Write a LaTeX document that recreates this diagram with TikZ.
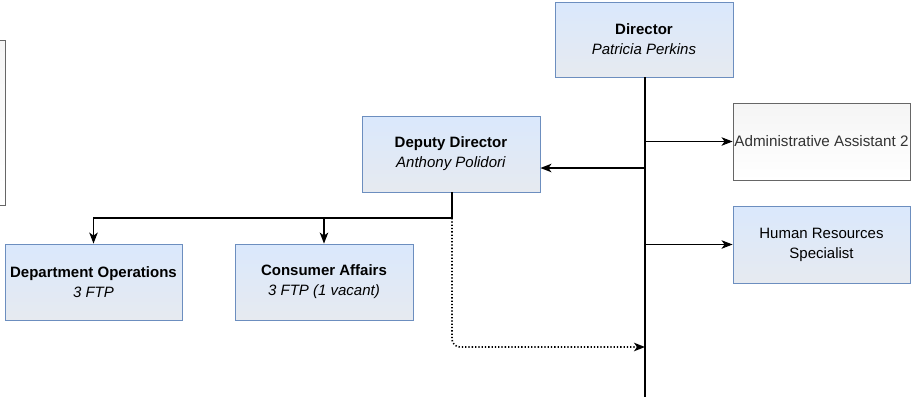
\documentclass[tikz,border=0pt]{standalone}
\usepackage{fontspec}
\setmainfont{Liberation Sans}
\usetikzlibrary{arrows.meta}

\definecolor{boxblue}{HTML}{DAE8FC}
\definecolor{boxbluelow}{HTML}{E6EAF0}
\definecolor{edgeblue}{HTML}{6C8EBF}
\definecolor{edgegray}{HTML}{666666}

\tikzset{
  unit/.style={rectangle, draw=edgeblue, line width=0.9pt, top color=boxblue,
    bottom color=boxbluelow, align=center, inner sep=0pt,
    font=\fontsize{15}{20}\selectfont},
  staff/.style={rectangle, draw=edgegray, line width=0.9pt, top color=gray!8,
    bottom color=white, align=center, inner sep=0pt, text=black!80,
    font=\fontsize{15.2}{20}\selectfont},
  link/.style={line width=1.3pt, -{Stealth[length=11pt,width=8.5pt,inset=3pt]}},
}

\begin{document}
\begin{tikzpicture}[x=1pt,y=-1pt]
\useasboundingbox (0,0) rectangle (914,397);

% boxes
\node[unit, minimum width=178pt, minimum height=75pt] (dir) at (644,39.5)
  {\textbf{Director}\\\textit{Patricia Perkins}};
\node[unit, minimum width=178pt, minimum height=76pt] (dep) at (451,154)
  {\textbf{Deputy Director}\\\textit{Anthony Polidori}};
\node[staff, minimum width=177pt, minimum height=77pt] (adm) at (821.5,141.5)
  {Administrative Assistant 2};
\node[unit, minimum width=177pt, minimum height=77pt] (hrs) at (821.5,244.5)
  {Human Resources\\Specialist};
\node[unit, minimum width=177pt, minimum height=76pt] (ops) at (93.5,282)
  {\textbf{Department Operations}\\\textit{3 FTP}};
\node[unit, minimum width=178pt, minimum height=76pt] (caf) at (324,282)
  {\textbf{Consumer Affairs}\\\textit{3 FTP (1 vacant)}};
\begin{scope}
\clip (0,0) rectangle (914,397);
\node[staff, minimum width=80pt, minimum height=165pt] (side) at (-35,122.5) {};
\end{scope}

% main line down from the director
\coordinate (trunk) at (645,397);
\draw[line width=2.4pt] (dir.south -| trunk) -- (trunk);

\coordinate (dd) at (645,168);
\draw[link] (dd) -- (dd -| dep.east);
\draw[link, line width=0.9pt] (adm.west -| trunk) -- (adm.west);
\draw[link, line width=0.9pt] (hrs.west -| trunk) -- (hrs.west);

% deputy to its units
\coordinate (split) at (452,218);
\draw[line width=1.3pt] (dep.south -| split) -- (split);
\draw[link] (split) -| (ops.north);
\draw[link] (split) -| (caf.north);

% dotted line back to the main line
\coordinate (dot) at (645,347);
\draw[link, dotted, line width=1.6pt, rounded corners=8pt] (split) |- (dot);

\end{tikzpicture}
\end{document}
